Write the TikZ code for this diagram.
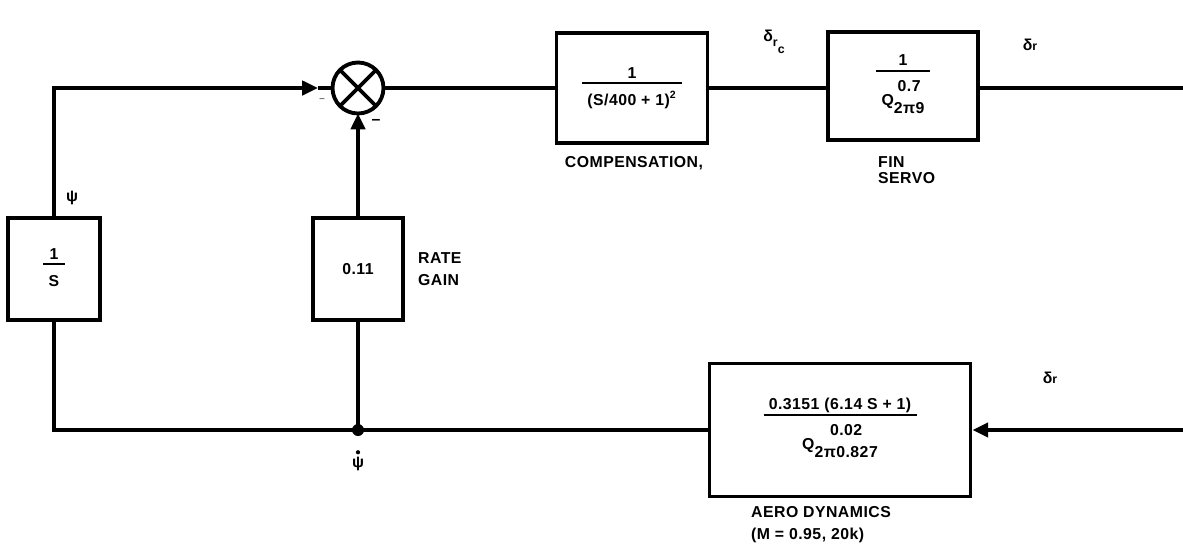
\documentclass[tikz,border=0pt]{standalone}
\usepackage{fontspec}
\setmainfont{Liberation Sans}[LetterSpace=3]
\usetikzlibrary{arrows.meta,positioning}

\setlength{\arrayrulewidth}{1.3pt}
\newcommand{\frc}[2]{\begin{tabular}{@{\hspace{3pt}}c@{\hspace{3pt}}}#1\\[-1pt]\hline\rule{0pt}{12pt}#2\end{tabular}}
\newcommand{\qterm}[2]{\rule{0pt}{19pt}Q\raisebox{-1ex}{\begin{tabular}[b]{@{}c@{}}#1\\[1.5pt]#2\end{tabular}}}

\begin{document}
\begin{tikzpicture}[x=0.02cm, y=-0.02cm,
    font=\bfseries\fontsize{9}{11}\selectfont,
    wire/.style={line width=2.2pt},
    flow/.style={wire, -{Triangle[length=9pt,width=8pt]}},
    blk/.style={draw, line width=2.2pt, inner sep=2pt},
    lbl/.style={align=left, anchor=west}]

    \useasboundingbox (0,0) rectangle (1183,548);

    % Blocks
    \node[blk, minimum width=1.84cm, minimum height=2.04cm] (integ) at (54,269) {\frc{1}{S}};
    \node[blk, minimum width=1.80cm, minimum height=2.04cm] (rate) at (358,269) {0.11};
    \node[draw, circle, line width=2.2pt, outer sep=0pt, minimum size=1.02cm] (sum) at (358,88) {};
    \node[blk, minimum width=3.02cm, minimum height=2.2cm] (comp) at (632,88) {\frc{1}{(S/400 + 1)\textsuperscript{2}}};
    \node[blk, minimum width=3.0cm, minimum height=2.16cm] (fin) at (903,86) {\frc{1}{\qterm{0.7}{2π9}}};
    \node[blk, minimum width=5.22cm, minimum height=2.66cm] (aero) at (840,430) {\frc{0.3151 (6.14 S + 1)}{\qterm{0.02}{2π0.827}}};

    \coordinate (split) at (358,430);
    \coordinate (in1) at (318,88);
    \coordinate (outR) at (1183,88);
    \coordinate (inR) at (1183,430);

    % Lines
    \draw[flow] (integ.north) |- (in1);
    \draw[wire] (in1) -- (sum.west);
    \draw[wire] (sum.45) -- (sum.225);
    \draw[wire] (sum.135) -- (sum.-45);
    \draw[flow] (rate.north) -- (sum.south);
    \draw[wire] (sum.east) -- (comp.west);
    \draw[wire] (comp.east) -- (fin.west |- comp.east);
    \draw[wire] (fin.east |- outR) -- (outR);
    \draw[flow] (inR) -- (aero.east);
    \draw[wire] (aero.west) -- (split);
    \draw[wire] (split) -| (integ.south);
    \draw[wire] (split) -- (rate.south);
    \fill (split) circle (0.12cm);

    % Labels
    \node[font=\normalfont\tiny] (minusA) at (322,100) {--};
    \node (minusB) at (376,122) {--};
    \node (psi) at (72,198) {ψ};
    \node[inner sep=1pt] (psidot) at (358,464) {ψ};
    \fill ([yshift=1.6pt]psidot.north) circle (1.2pt);
    \node[lbl, font=\bfseries\fontsize{9}{12.5}\selectfont] (rategain) at (412,269) {RATE\\GAIN};
    \node (complbl) at (634,163) {COMPENSATION,};
    \node[lbl, font=\bfseries\fontsize{9}{9.5}\selectfont] (finlbl) at (872,170) {FIN\\SERVO};
    \node[lbl, font=\bfseries\fontsize{9}{12.5}\selectfont] (aerolbl) at (745,525) {AERO DYNAMICS\\(M = 0.95, 20k)};
    \node (drc) at (774,42) {δ\raisebox{-0.6ex}{\fontsize{7}{8}\selectfont r}\raisebox{-1.4ex}{\fontsize{7}{8}\selectfont c}};
    \node (drtop) at (1030,45) {δ\fontsize{7}{8}\selectfont r};
    \node (drbot) at (1050,378) {δ\fontsize{7}{8}\selectfont r};

\end{tikzpicture}
\end{document}
